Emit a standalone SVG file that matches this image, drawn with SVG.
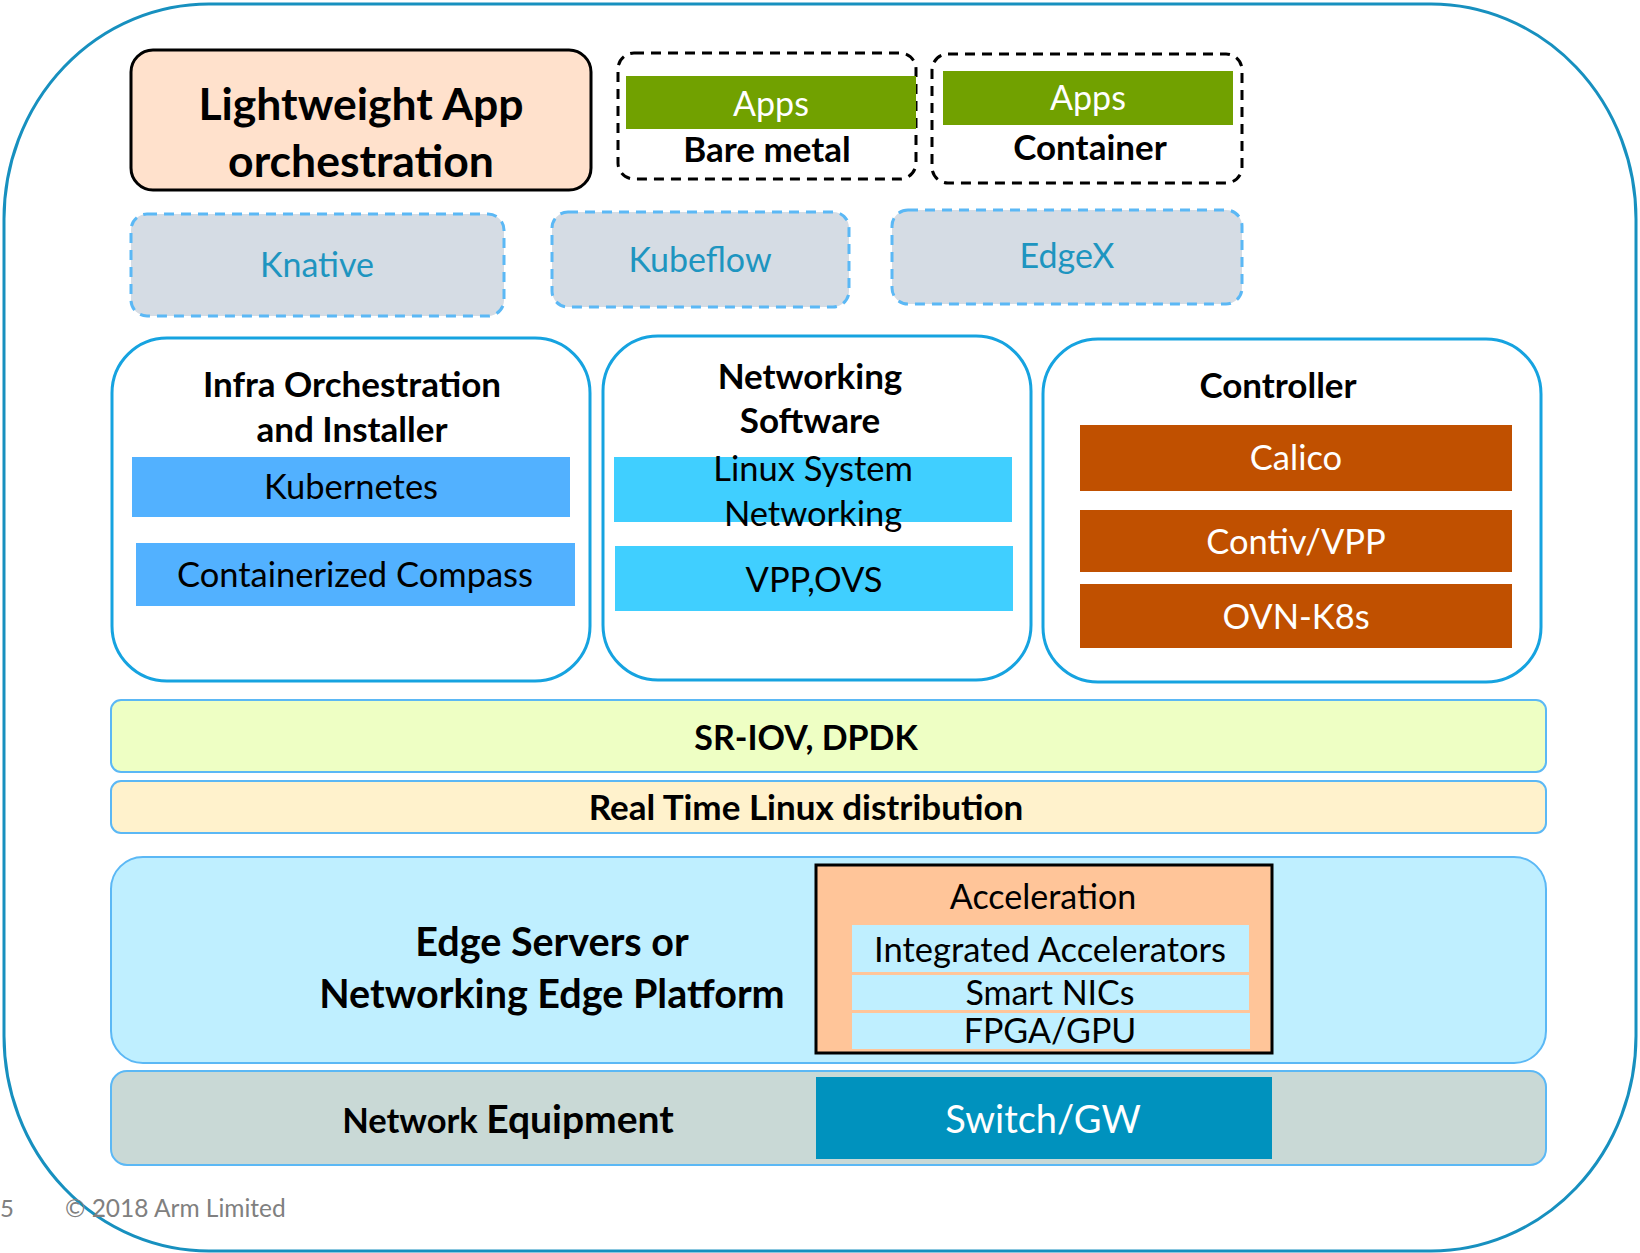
<svg xmlns="http://www.w3.org/2000/svg" width="1640" height="1253" viewBox="0 0 1640 1253">
<style>
text{font-family:Lato,"Open Sans","Liberation Sans",sans-serif;text-anchor:middle;}
.b{font-weight:bold;fill:#000;}
.n{fill:#000;}
.w{fill:#fff;}
.lnk{fill:#1E95C0;}
.dash{fill:none;stroke:#000;stroke-width:3;stroke-dasharray:10 7;}
.proj{fill:#D5DCE4;stroke:#5BB8F5;stroke-width:3;stroke-dasharray:10 7;}
.grp{fill:#fff;stroke:#16A3E0;stroke-width:3;}
.green{fill:#71A100;}
.kub{fill:#52B1FF;}
.cyan{fill:#40CFFF;}
.rust{fill:#C05000;}
.layer{stroke:#5BB8F5;stroke-width:2;}
.acc{fill:#BFEFFF;}
</style>
<rect x="4" y="4" width="1632" height="1247" rx="205" ry="215" fill="#fff" stroke="#1790BF" stroke-width="3"/>

<g id="lightweight">
<rect x="131" y="50" width="460" height="140" rx="22" fill="#FFE1CC" stroke="#000" stroke-width="3"/>
<text class="b" x="361" y="120" font-size="44.5">Lightweight App</text>
<text class="b" x="361" y="177" font-size="44.5">orchestration</text>
</g>
<g id="baremetal">
<rect class="dash" x="618" y="53" width="298" height="126" rx="16"/>
<rect class="green" x="626" y="76" width="290" height="53"/>
<text class="w" x="771" y="116" font-size="34">Apps</text>
<text class="b" x="767" y="162" font-size="35">Bare metal</text>
</g>
<g id="container">
<rect class="dash" x="932" y="54" width="310" height="129" rx="16"/>
<rect class="green" x="943" y="71" width="290" height="54"/>
<text class="w" x="1088" y="110" font-size="34">Apps</text>
<text class="b" x="1090" y="160" font-size="35">Container</text>
</g>

<g id="knative">
<rect class="proj" x="131" y="214" width="373" height="102" rx="16"/>
<text class="lnk" x="317" y="277" font-size="34">Knative</text>
</g>
<g id="kubeflow">
<rect class="proj" x="552" y="212" width="297" height="95" rx="16"/>
<text class="lnk" x="700" y="272" font-size="34">Kubeflow</text>
</g>
<g id="edgex">
<rect class="proj" x="892" y="210" width="350" height="94" rx="16"/>
<text class="lnk" x="1067" y="268" font-size="34">EdgeX</text>
</g>

<g id="infra">
<rect class="grp" x="112" y="338" width="478" height="343" rx="55"/>
<text class="b" x="352" y="397" font-size="35">Infra Orchestration</text>
<text class="b" x="352" y="442" font-size="35">and Installer</text>
<rect class="kub" x="132" y="457" width="438" height="60"/>
<text class="n" x="351" y="499" font-size="34.5">Kubernetes</text>
<rect class="kub" x="136" y="543" width="439" height="63"/>
<text class="n" x="355" y="587" font-size="34.5">Containerized Compass</text>
</g>
<g id="networking">
<rect class="grp" x="603" y="336" width="428" height="344" rx="55"/>
<text class="b" x="810" y="389" font-size="35">Networking</text>
<text class="b" x="810" y="433" font-size="35">Software</text>
<rect class="cyan" x="614" y="457" width="398" height="65"/>
<text class="n" x="813" y="481" font-size="34.5">Linux System</text>
<text class="n" x="813" y="526" font-size="34.5">Networking</text>
<rect class="cyan" x="615" y="546" width="398" height="65"/>
<text class="n" x="814" y="592" font-size="34.5">VPP,OVS</text>
</g>
<g id="controller">
<rect class="grp" x="1043" y="339" width="498" height="343" rx="55"/>
<text class="b" x="1278" y="398" font-size="35">Controller</text>
<rect class="rust" x="1080" y="425" width="432" height="66"/>
<text class="w" x="1296" y="470" font-size="34.5">Calico</text>
<rect class="rust" x="1080" y="510" width="432" height="62"/>
<text class="w" x="1296" y="554" font-size="34.5">Contiv/VPP</text>
<rect class="rust" x="1080" y="584" width="432" height="64"/>
<text class="w" x="1296" y="629" font-size="34.5">OVN-K8s</text>
</g>

<g id="sriov">
<rect class="layer" x="111" y="700" width="1435" height="72" rx="10" fill="#EEFFC4"/>
<text class="b" x="806" y="750" font-size="34">SR-IOV, DPDK</text>
</g>
<g id="rtlinux">
<rect class="layer" x="111" y="781" width="1435" height="52" rx="10" fill="#FFF2CC"/>
<text class="b" x="806" y="820" font-size="35">Real Time Linux distribution</text>
</g>

<g id="edgeservers">
<rect class="layer" x="111" y="857" width="1435" height="206" rx="32" fill="#BFEFFF"/>
<text class="b" x="552" y="956" font-size="39.5">Edge Servers or</text>
<text class="b" x="552" y="1008" font-size="39.5">Networking Edge Platform</text>
</g>
<g id="acceleration">
<rect x="816" y="865" width="456" height="188" fill="#FFC599" stroke="#000" stroke-width="3"/>
<text class="n" x="1043" y="909" font-size="34">Acceleration</text>
<rect class="acc" x="852" y="925" width="397" height="47"/>
<text class="n" x="1050" y="962" font-size="34.5">Integrated Accelerators</text>
<rect class="acc" x="852" y="975" width="397" height="35"/>
<text class="n" x="1050" y="1005" font-size="34">Smart NICs</text>
<rect class="acc" x="852" y="1013" width="398" height="36"/>
<text class="n" x="1050" y="1043" font-size="34">FPGA/GPU</text>
</g>

<g id="netequip">
<rect class="layer" x="111" y="1071" width="1435" height="94" rx="16" fill="#C9D9D6"/>
<text class="b" x="508" y="1133"><tspan font-size="34.5">Network </tspan><tspan font-size="39">Equipment</tspan></text>
<rect x="816" y="1077" width="456" height="82" fill="#0092BE"/>
<text class="w" x="1043" y="1133" font-size="38">Switch/GW</text>
</g>

<g id="footer">
<text x="0" y="1217" font-size="24" fill="#808080" style="text-anchor:start">5</text>
<text x="65" y="1217" font-size="24.5" fill="#808080" style="text-anchor:start">© 2018 Arm Limited</text>
</g>
</svg>
